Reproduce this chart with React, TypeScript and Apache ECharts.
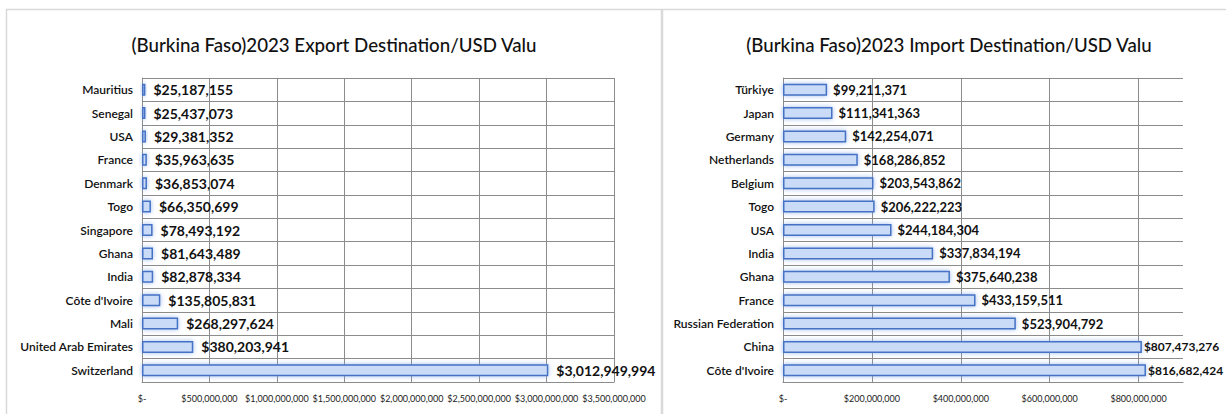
import React, { useEffect, useRef } from "react";
import * as echarts from "echarts";

const exportCountries = ["Mauritius", "Senegal", "USA", "France", "Denmark", "Togo", "Singapore", "Ghana", "India", "Côte d'Ivoire", "Mali", "United Arab Emirates", "Switzerland"];
const exportValues = [25187155, 25437073, 29381352, 35963635, 36853074, 66350699, 78493192, 81643489, 82878334, 135805831, 268297624, 380203941, 3012949994];

const importCountries = ["Türkiye", "Japan", "Germany", "Netherlands", "Belgium", "Togo", "USA", "India", "Ghana", "France", "Russian Federation", "China", "Côte d'Ivoire"];
const importValues = [99211371, 111341363, 142254071, 168286852, 203543862, 206222223, 244184304, 337834194, 375640238, 433159511, 523904792, 807473276, 816682424];

const exportTitle = "(Burkina Faso)2023 Export Destination/USD Valu";
const importTitle = "(Burkina Faso)2023 Import Destination/USD Valu";

const FONT = "Lato";
const GRID_COLOR = "#8c8c8c";

const money = (v: number) => (v === 0 ? "$-" : "$" + v.toLocaleString("en-US"));

function barSeries(idx: number, data: number[], fontSize: number, distance: number, edgeLimit: number) {
  return {
    type: "bar",
    xAxisIndex: idx,
    yAxisIndex: idx,
    data: data.map((v) =>
      v > edgeLimit ? { value: v, label: { fontSize: 12, distance: 2 } } : v
    ),
    barWidth: 12,
    itemStyle: {
      color: "#c9dbf6",
      borderColor: "#4472c4",
      borderWidth: 1.5,
      shadowBlur: 5,
      shadowColor: "rgba(120,160,230,0.7)",
    },
    label: {
      show: true,
      position: "right",
      distance,
      formatter: (p: any) => money(p.value),
      fontFamily: FONT,
      fontWeight: "bold",
      fontSize,
      color: "#111",
    },
  };
}

function xAxis(idx: number, max: number, interval: number, showMaxLine: boolean) {
  return {
    type: "value",
    gridIndex: idx,
    min: 0,
    max,
    interval,
    axisLine: { show: true, lineStyle: { color: GRID_COLOR } },
    axisTick: { show: false },
    splitLine: { show: true, showMaxLine, lineStyle: { color: GRID_COLOR, width: 1 } },
    axisLabel: {
      showMaxLabel: max % interval === 0,
      formatter: (v: number) => money(v),
      fontFamily: FONT,
      fontSize: 9,
      color: "#222",
      margin: 12,
    },
  };
}

function yAxis(idx: number, cats: string[]) {
  return {
    type: "category",
    gridIndex: idx,
    data: cats,
    inverse: true,
    axisLine: { show: true, lineStyle: { color: GRID_COLOR } },
    axisTick: { show: false },
    splitLine: { show: true, lineStyle: { color: GRID_COLOR, width: 1 } },
    axisLabel: {
      fontFamily: FONT,
      fontWeight: 600,
      fontSize: 12,
      color: "#111",
      margin: 9,
    },
  };
}

export default function App() {
  const ref = useRef<HTMLDivElement>(null);
  useEffect(() => {
    if (!ref.current) return;
    const chart = echarts.init(ref.current, null, { renderer: "svg" });
    chart.setOption({
      animation: false,
      backgroundColor: "#ffffff",
      graphic: [
        { type: "rect", shape: { x: 6.5, y: 9.5, width: 655, height: 420 }, style: { fill: "none", stroke: "#d9d9d9", lineWidth: 1.5 }, silent: true },
        { type: "rect", shape: { x: 662.5, y: 9.5, width: 620, height: 420 }, style: { fill: "none", stroke: "#d9d9d9", lineWidth: 1.5 }, silent: true },
      ],
      title: [
        { text: exportTitle, left: 329, top: 30, textAlign: "center", textStyle: { fontFamily: FONT, fontSize: 18.7, fontWeight: 500, color: "#111" } },
        { text: importTitle, left: 944, top: 30, textAlign: "center", textStyle: { fontFamily: FONT, fontSize: 18.7, fontWeight: 500, color: "#111" } },
      ],
      grid: [
        { left: 142, top: 78, width: 472, height: 304, containLabel: false },
        { left: 783, top: 78, width: 400, height: 304, containLabel: false },
      ],
      xAxis: [xAxis(0, 3500000000, 500000000, true), xAxis(1, 900000000, 200000000, false)],
      yAxis: [yAxis(0, exportCountries), yAxis(1, importCountries)],
      series: [
        barSeries(0, exportValues, 14, 8, Infinity),
        barSeries(1, importValues, 13, 6, 700000000),
      ],
    });
    return () => chart.dispose();
  }, []);
  return <div ref={ref} style={{ position: "fixed", left: 0, top: 0, width: 1226, height: 414 }} />;
}
